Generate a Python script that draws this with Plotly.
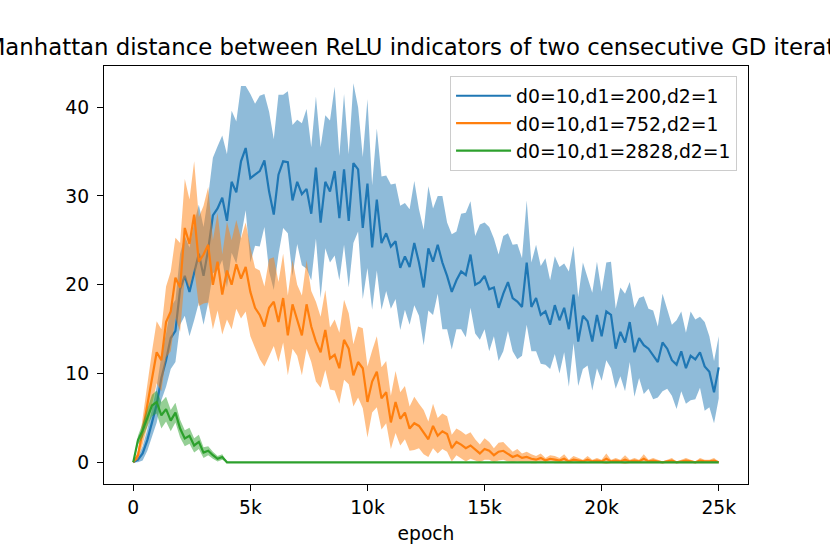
import numpy as np
import plotly.graph_objects as go

# epochs sampled every 200 steps
epochs = list(range(0, 25001, 200))

# mean / std of the Manhattan distance
blue_mean = [
    0.0, 0.3, 1.0, 2.5, 4.5, 6.5, 9.5, 11.5, 14.0, 14.8,
    19.5, 21.0, 19.2, 21.5, 23.5, 21.0, 24.0, 27.8, 28.6, 29.8,
    27.2, 31.6, 30.4, 33.9, 35.4, 32.0, 32.4, 32.8, 34.0, 30.5,
    27.9, 32.4, 33.9, 33.8, 29.5, 31.6, 30.2, 30.8, 28.0, 33.2,
    27.0, 31.6, 30.5, 32.8, 27.5, 33.0, 27.2, 33.7, 33.0, 26.4,
    31.4, 24.2, 29.6, 24.7, 25.8, 24.3, 24.9, 21.9, 23.2, 22.0,
    24.7, 22.5, 19.7, 24.1, 22.6, 24.5, 22.5, 21.0, 19.2, 20.5,
    21.5, 21.1, 23.4, 20.0, 20.3, 21.0, 19.5, 19.7, 17.4, 19.0,
    20.3, 18.5, 18.1, 17.5, 22.5, 17.5, 18.5, 16.6, 17.0, 15.5,
    17.7, 16.0, 17.4, 15.0, 18.9, 13.6, 16.5, 15.9, 13.6, 16.6,
    14.2, 17.0, 16.6, 12.8, 14.7, 13.5, 15.8, 12.4, 14.0, 13.2,
    12.8, 12.1, 11.3, 13.5, 12.8, 11.5, 11.0, 12.5, 10.6, 12.0,
    11.6, 12.4, 10.8, 10.2, 7.9, 10.7,
]
blue_std = [
    0.0, 0.3, 0.8, 1.2, 1.5, 2.0, 2.5, 3.0, 3.5, 3.5,
    4.0, 4.5, 5.0, 5.5, 5.5, 5.5, 6.0, 6.5, 7.0, 7.0,
    7.5, 8.0, 8.0, 8.5, 7.0, 9.5, 8.0, 8.5, 7.5, 9.0,
    8.5, 9.0, 7.5, 8.0, 8.5, 7.0, 8.0, 9.0, 7.5, 8.0,
    8.5, 7.5, 8.0, 9.5, 7.0, 8.5, 7.5, 9.0, 7.0, 8.0,
    9.5, 7.0, 8.0, 7.5, 6.5, 7.0, 6.5, 7.0, 6.0, 6.5,
    7.0, 6.0, 6.5, 7.0, 6.0, 5.5, 7.5, 6.0, 6.5, 5.5,
    6.5, 7.0, 6.0, 5.5, 6.5, 6.0, 7.0, 5.5, 6.0, 6.5,
    5.5, 6.0, 6.5, 5.5, 7.0, 5.0, 6.0, 5.5, 6.0, 5.0,
    5.5, 6.0, 5.0, 6.5, 5.5, 5.0, 6.0, 5.0, 5.5, 6.0,
    5.0, 5.5, 6.0, 4.5, 5.0, 5.5, 4.5, 5.0, 4.5, 5.5,
    4.5, 5.0, 4.0, 5.5, 4.5, 4.0, 5.0, 4.5, 4.0, 5.0,
    4.5, 4.0, 5.0, 4.0, 3.5, 3.5,
]

orange_mean = [
    0.0, 0.8, 3.5, 6.5, 9.5, 12.4, 11.5, 15.8, 17.0, 20.8,
    19.7, 26.4, 24.6, 27.9, 22.6, 23.4, 24.5, 20.0, 22.6, 18.9,
    21.6, 20.0, 22.3, 20.7, 22.0, 19.2, 17.4, 16.6, 15.3, 17.4,
    18.1, 15.8, 18.5, 14.3, 17.8, 16.0, 14.3, 17.8, 15.3, 13.6,
    12.4, 14.9, 11.7, 12.1, 10.6, 13.8, 12.8, 9.8, 11.3, 10.6,
    6.8, 9.1, 10.2, 7.2, 7.9, 4.5, 6.8, 4.9, 5.6, 3.8,
    4.4, 4.1, 3.4, 2.6, 4.1, 3.0, 3.5, 3.2, 1.6, 2.3,
    2.0, 1.6, 1.9, 1.4, 1.0, 1.5, 1.3, 0.8, 1.2, 1.3,
    0.9, 0.6, 0.8, 0.5, 0.6, 0.4, 0.3, 0.5, 0.2, 0.4,
    0.3, 0.2, 0.4, 0.1, 0.3, 0.2, 0.1, 0.3, 0.1, 0.2,
    0.1, 0.4, 0.1, 0.2, 0.1, 0.3, 0.1, 0.2, 0.1, 0.4,
    0.1, 0.2, 0.1, 0.0, 0.1, 0.2, 0.0, 0.1, 0.2, 0.1,
    0.0, 0.2, 0.1, 0.1, 0.2, 0.0,
]
orange_std = [
    0.0, 0.5, 1.5, 2.5, 3.0, 3.5, 3.5, 4.0, 4.5, 4.5,
    5.0, 5.5, 5.0, 6.0, 5.0, 5.5, 6.5, 5.0, 5.5, 4.5,
    5.5, 5.0, 5.0, 4.5, 5.0, 5.0, 4.5, 5.0, 4.5, 5.5,
    5.0, 4.5, 5.0, 4.5, 5.0, 4.0, 4.5, 5.0, 4.0, 4.5,
    4.0, 4.5, 3.5, 4.0, 4.0, 4.5, 4.0, 3.5, 4.0, 4.5,
    4.0, 3.5, 4.0, 3.5, 3.5, 3.0, 3.5, 3.0, 3.0, 2.5,
    3.0, 2.5, 2.5, 2.0, 2.5, 2.0, 2.0, 2.0, 1.5, 1.5,
    1.5, 1.5, 1.5, 1.2, 1.0, 1.2, 1.0, 0.8, 1.0, 1.0,
    0.8, 0.6, 0.7, 0.5, 0.6, 0.5, 0.4, 0.5, 0.3, 0.4,
    0.4, 0.3, 0.5, 0.2, 0.4, 0.3, 0.2, 0.4, 0.2, 0.3,
    0.2, 0.6, 0.2, 0.3, 0.2, 0.5, 0.2, 0.3, 0.2, 0.5,
    0.2, 0.3, 0.2, 0.1, 0.2, 0.3, 0.1, 0.2, 0.3, 0.2,
    0.1, 0.3, 0.2, 0.2, 0.3, 0.1,
]

# widest net: zero from 4k epochs onwards
green_mean = [
    0.0, 2.5, 3.6, 5.0, 6.4, 6.8, 5.3, 6.0, 4.7, 5.6,
    3.8, 2.7, 3.0, 1.9, 2.3, 1.1, 1.3, 0.8, 0.4, 0.6,
    0.0,
] + [0.0] * 105
green_std = [
    0.0, 0.5, 0.8, 1.0, 1.2, 1.3, 1.5, 1.4, 1.2, 1.1,
    1.0, 0.9, 0.9, 0.8, 0.8, 0.6, 0.5, 0.4, 0.3, 0.3,
    0.0,
] + [0.0] * 105

series_names = ["d0=10,d1=200,d2=1", "d0=10,d1=752,d2=1", "d0=10,d1=2828,d2=1"]
x_tickvals = [0, 5000, 10000, 15000, 20000, 25000]
x_ticktext = ["0", "5k", "10k", "15k", "20k", "25k"]
y_tickvals = [0, 10, 20, 30, 40]

colors = ["#1f77b4", "#ff7f0e", "#2ca02c"]
fills = ["rgba(31,119,180,0.5)", "rgba(255,127,14,0.5)", "rgba(44,160,44,0.5)"]
FONT = "DejaVu Sans"

fig = go.Figure()

series = [(blue_mean, blue_std), (orange_mean, orange_std), (green_mean, green_std)]
for i, (mu, sd) in enumerate(series):
    mu = np.array(mu)
    sd = np.array(sd)
    upper = mu + sd
    lower = mu - sd
    fig.add_trace(
        go.Scatter(
            x=epochs + epochs[::-1],
            y=list(upper) + list(lower[::-1]),
            fill="toself",
            fillcolor=fills[i],
            line=dict(width=0),
            mode="lines",
            hoverinfo="skip",
            showlegend=False,
        )
    )
    fig.add_trace(
        go.Scatter(
            x=epochs,
            y=mu,
            name=series_names[i],
            mode="lines",
            line=dict(color=colors[i], width=2.2),
        )
    )

fig.update_layout(
    width=830,
    height=554,
    margin=dict(l=104, r=82, t=66, b=70),
    paper_bgcolor="white",
    plot_bgcolor="white",
    font=dict(family=FONT, size=18.7, color="black"),
    title=dict(
        text="Manhattan distance between ReLU indicators of two censecutive GD iterations",
        font=dict(family=FONT, size=22.8, color="black"),
        x=0.512,
        xref="paper",
        xanchor="center",
        y=1 - 47 / 554,
        yref="container",
        yanchor="middle",
    ),
    legend=dict(
        x=0.983,
        y=0.976,
        xanchor="right",
        yanchor="top",
        bgcolor="rgba(255,255,255,0.8)",
        bordercolor="#cccccc",
        borderwidth=1,
        font=dict(family=FONT, size=18.8, color="black"),
        tracegroupgap=0,
        itemwidth=55,
    ),
    xaxis=dict(
        range=[-1250, 26250],
        tickvals=x_tickvals,
        ticktext=x_ticktext,
        ticks="outside",
        ticklen=6,
        tickwidth=1.4,
        tickcolor="black",
        showline=True,
        linecolor="black",
        linewidth=1.4,
        mirror=True,
        showgrid=False,
        zeroline=False,
        title=dict(text="epoch", standoff=10, font=dict(family=FONT, size=18.7)),
    ),
    yaxis=dict(
        range=[-2.44, 44.64],
        tickvals=y_tickvals,
        ticks="outside",
        ticklen=6,
        tickwidth=1.4,
        tickcolor="black",
        showline=True,
        linecolor="black",
        linewidth=1.4,
        mirror=True,
        showgrid=False,
        zeroline=False,
        ticklabelstandoff=4,
    ),
)

# drop the default 8px page margin so the figure fills the window
fig.write_html(
    "out.html",
    config={"displayModeBar": False},
    post_script="document.body.style.margin = '0';",
)
